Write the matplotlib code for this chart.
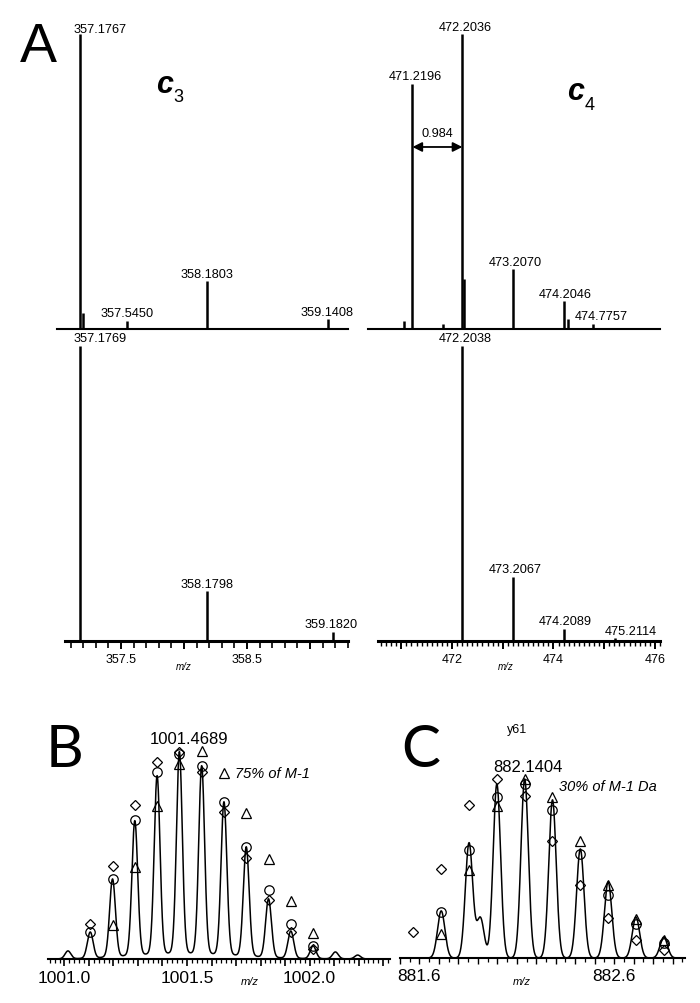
import numpy as np
import matplotlib
matplotlib.use('Agg')
import matplotlib.pyplot as plt
from matplotlib.ticker import MultipleLocator

plt.rcParams['font.family'] = ['Liberation Sans', 'DejaVu Sans']

# ---- panel A : c3 / c4 fragment ions (stick spectra, % relative intensity)
c3_top_mz = [357.1767, 357.198, 357.5450, 358.1803, 359.1408]
c3_top_int = [100, 5.4, 2.7, 16.3, 3.4]
c3_top_labels = ['357.1767', '', '357.5450', '358.1803', '359.1408']

c3_bot_mz = [357.1769, 358.1798, 359.1820]
c3_bot_int = [100, 17.0, 3.0]
c3_bot_labels = ['357.1769', '358.1798', '359.1820']

c4_top_mz = [471.053, 471.2196, 471.82, 472.2036, 472.245, 473.2070, 474.2046, 474.288, 474.7757]
c4_top_int = [2.7, 83.0, 1.7, 100, 17.0, 20.3, 9.5, 3.4, 1.7]
c4_top_labels = ['', '471.2196', '', '472.2036', '', '473.2070', '474.2046', '', '474.7757']

c4_bot_mz = [472.2038, 473.2067, 474.2089, 475.2114]
c4_bot_int = [100, 21.7, 4.0, 1.0]
c4_bot_labels = ['472.2038', '473.2067', '474.2089', '475.2114']

# ---- panel B : isotope cluster around 1001.4689
b_mz = [1001.0144, 1001.1053, 1001.1962, 1001.2871, 1001.3780, 1001.4689, 1001.5598,
        1001.6507, 1001.7416, 1001.8325, 1001.9234, 1002.0143, 1002.1052, 1002.1961]
b_int = [3.9, 13.0, 38.6, 66.7, 88.4, 100, 93.2, 75.8, 54.1, 29.0, 13.5, 6.3, 3.4, 1.9]
b_diamond_mz = b_mz[1:12]
b_diamond = [16.9, 44.9, 74.4, 95.2, 100, 90.3, 71.0, 48.8, 28.5, 13.0, 4.8]
b_circle_mz = b_mz[1:12]
b_circle = [13.0, 38.6, 67.1, 90.3, 99.0, 93.2, 75.8, 54.1, 33.3, 16.9, 6.3]
b_triangle_mz = b_mz[2:12]
b_triangle = [16.4, 44.4, 73.9, 94.2, 100.5, 89.9, 70.5, 48.3, 28.0, 12.6]
b_ticks = [1001.0, 1001.1, 1001.2, 1001.3, 1001.4, 1001.5, 1001.6, 1001.7, 1001.8, 1001.9, 1002.0, 1002.1, 1002.2, 1002.3]
b_tick_labels = ['1001.0', '', '', '', '', '1001.5', '', '', '', '', '1002.0', '', '', '']

# ---- panel C : y61
c_mz = [881.7117, 881.8546, 881.913, 881.9975, 882.1404, 882.2833, 882.4262, 882.5691, 882.7120, 882.8549]
c_int = [26.3, 64.2, 22.3, 97.2, 100, 88.3, 60.9, 42.5, 22.9, 11.7]
c_theo_mz = [881.5688, 881.7117, 881.8546, 881.9975, 882.1404, 882.2833, 882.4262, 882.5691, 882.7120, 882.8549]
c_diamond = [14.5, 49.7, 85.5, 100, 90.5, 65.4, 40.8, 22.3, 10.1, 4.5]
c_circle = [25.7, 60.3, 89.9, 97.2, 82.7, 58.1, 35.2, 19.0, 8.4]
c_triangle = [13.4, 49.2, 84.9, 100, 89.9, 65.4, 40.8, 21.8, 10.1]
c_ticks = [881.5, 881.6, 881.7, 881.8, 881.9, 882.0, 882.1, 882.2, 882.3, 882.4, 882.5, 882.6, 882.7, 882.8, 882.9]
c_tick_labels = ['', '881.6', '', '', '', '', '', '', '', '', '', '882.6', '', '', '']

W, H = 700.0, 1004.0


def box(x0, x1, base, top):
    return [x0 / W, 1 - base / H, (x1 - x0) / W, (base - top) / H]


def profile(x, centers, heights, sigma, broad=0.0):
    y = np.zeros_like(x)
    for c, h in zip(centers, heights):
        y += h * (1 - broad) * np.exp(-0.5 * ((x - c) / sigma) ** 2)
        if broad:
            y += h * broad * np.exp(-0.5 * ((x - c) / 0.035) ** 2)
    return y


def strip(ax, lw):
    for s in ['top', 'left', 'right']:
        ax.spines[s].set_visible(False)
    ax.spines['bottom'].set_linewidth(lw)
    ax.set_yticks([])
    ax.patch.set_visible(False)


def sticks(ax, mz, inten, labels, label_pos, xlim):
    ax.vlines(mz, 0, inten, color='black', lw=1.8)
    for lab, (lx, ly) in zip([l for l in labels if l], label_pos):
        ax.text(lx, ly, lab, fontsize=9.2, ha='center', va='baseline')
    ax.set_xlim(*xlim)
    ax.set_ylim(0, 110)


fig = plt.figure(figsize=(7, 10.04), dpi=100)

# A top-left
ax = fig.add_axes(box(57, 348, 330, 5.5))
strip(ax, 1.5)
sticks(ax, c3_top_mz, c3_top_int, c3_top_labels,
       [(357.333, 100.7), (357.548, 4.4), (358.183, 17.6), (359.135, 4.7)], (356.992, 359.302))
ax.set_xticks([])

# A bottom-left
ax = fig.add_axes(box(65, 348, 642, 317.5))
strip(ax, 2.2)
sticks(ax, c3_bot_mz, c3_bot_int, c3_bot_labels,
       [(357.333, 101.7), (358.183, 18.3), (359.167, 4.7)], (357.056, 359.302))
ax.set_xticks([357.5, 358.0, 358.5, 359.0], ['357.5', '', '358.5', ''])
ax.xaxis.set_minor_locator(MultipleLocator(0.1))
ax.tick_params(axis='x', which='major', direction='out', length=6, width=1.4, labelsize=9, pad=3)
ax.tick_params(axis='x', which='minor', direction='out', length=5, width=1.2)
ax.text(358.0, -9.5, 'm/z', fontsize=7, style='italic', ha='center', va='baseline')

# A top-right
ax = fig.add_axes(box(368, 660, 330, 5.5))
strip(ax, 1.5)
sticks(ax, c4_top_mz, c4_top_int, c4_top_labels,
       [(471.27, 84.7), (472.256, 101.4), (473.243, 21.7), (474.229, 10.8), (474.939, 3.4)], (470.343, 476.10))
ax.set_xticks([])
ax.annotate('', xy=(471.2196, 61.7), xytext=(472.2036, 61.7),
            arrowprops=dict(arrowstyle='<|-|>', color='black', lw=1.3, mutation_scale=14, shrinkA=0, shrinkB=0))
ax.text(471.704, 65.4, '0.984', fontsize=9.2, ha='center', va='baseline')

# A bottom-right
ax = fig.add_axes(box(378, 660, 642, 317.5))
strip(ax, 2.2)
sticks(ax, c4_bot_mz, c4_bot_int, c4_bot_labels,
       [(472.256, 101.7), (473.243, 23.4), (474.229, 5.8), (475.53, 2.4)], (470.54, 476.10))
ax.set_xticks([471, 472, 473, 474, 475, 476], ['', '472', '', '474', '', '476'])
ax.xaxis.set_minor_locator(MultipleLocator(0.1))
ax.tick_params(axis='x', which='major', direction='out', length=6, width=1.4, labelsize=9, pad=3)
ax.tick_params(axis='x', which='minor', direction='out', length=3.5, width=1.0)
ax.text(473.05, -9.5, 'm/z', fontsize=7, style='italic', ha='center', va='baseline')

mk = dict(linestyle='none', markerfacecolor='none', markeredgecolor='black', markeredgewidth=0.9)

# B
ax = fig.add_axes(box(48, 390, 960, 722))
strip(ax, 1.5)
xb = np.linspace(1000.93, 1002.33, 3000)
ax.plot(xb, profile(xb, b_mz, b_int, 0.0118, broad=0.035), color='black', lw=1.1)
ax.plot(b_diamond_mz, b_diamond, marker='D', markersize=5.4, **mk)
ax.plot(b_circle_mz, b_circle, marker='o', markersize=6.8, **mk)
ax.plot(b_triangle_mz, b_triangle, marker='^', markersize=7, **mk)
ax.set_xlim(1000.933, 1002.328)
ax.set_ylim(0, 115)
ax.set_xticks(b_ticks, b_tick_labels)
ax.xaxis.set_minor_locator(MultipleLocator(0.02))
ax.tick_params(axis='x', which='major', direction='out', length=5, width=1.2, labelsize=12.5, pad=3)
ax.tick_params(axis='x', which='minor', direction='out', length=3, width=0.9)
ax.text(1001.508, 104.3, '1001.4689', fontsize=12, ha='center', va='baseline')
ax.text(1001.695, 87.9, '75% of M-1', fontsize=10.5, style='italic', ha='left', va='baseline')
ax.text(1001.757, -12, 'm/z', fontsize=8, style='italic', ha='center', va='baseline')

# C
ax = fig.add_axes(box(400, 685, 959, 753))
strip(ax, 1.5)
xc = np.linspace(881.50, 882.965, 3000)
ax.plot(xc, profile(xc, c_mz, c_int, 0.019), color='black', lw=1.1)
ax.plot(c_theo_mz, c_diamond, marker='D', markersize=5.4, **mk)
ax.plot(c_theo_mz[1:], c_circle, marker='o', markersize=6.8, **mk)
ax.plot(c_theo_mz[1:], c_triangle, marker='^', markersize=7, **mk)
ax.set_xlim(881.503, 882.964)
ax.set_ylim(0, 115)
ax.set_xticks(c_ticks, c_tick_labels)
ax.xaxis.set_minor_locator(MultipleLocator(0.05))
ax.tick_params(axis='x', which='major', direction='out', length=4, width=1.0, labelsize=12.5, pad=3)
ax.tick_params(axis='x', which='minor', direction='out', length=3, width=0.9)
ax.text(882.103, 126, 'y61', fontsize=9, ha='center', va='baseline', clip_on=False)
ax.text(882.159, 104.5, '882.1404', fontsize=12, ha='center', va='baseline')
ax.text(882.318, 93.9, '30% of M-1 Da', fontsize=10.5, style='italic', ha='left', va='baseline')
ax.text(882.128, -14.5, 'm/z', fontsize=8, style='italic', ha='center', va='baseline')

# panel letters and ion names
fig.text(20 / W, 1 - 62 / H, 'A', fontsize=40, ha='left', va='baseline')
fig.text(46 / W, 1 - 767 / H, 'B', fontsize=42, family=['Lato', 'DejaVu Sans'], ha='left', va='baseline')
fig.text(401 / W, 1 - 767 / H, 'C', fontsize=42, family=['Lato', 'DejaVu Sans'], ha='left', va='baseline')
fig.text(156 / W, 1 - 93 / H, 'c', fontsize=22, weight='bold', style='italic', ha='left', va='baseline')
fig.text(173 / W, 1 - 102 / H, '3', fontsize=13, ha='left', va='baseline')
fig.text(567 / W, 1 - 100 / H, 'c', fontsize=22, weight='bold', style='italic', ha='left', va='baseline')
fig.text(585 / W, 1 - 110 / H, '4', fontsize=13, ha='left', va='baseline')

fig.savefig('out.png', dpi=100)
